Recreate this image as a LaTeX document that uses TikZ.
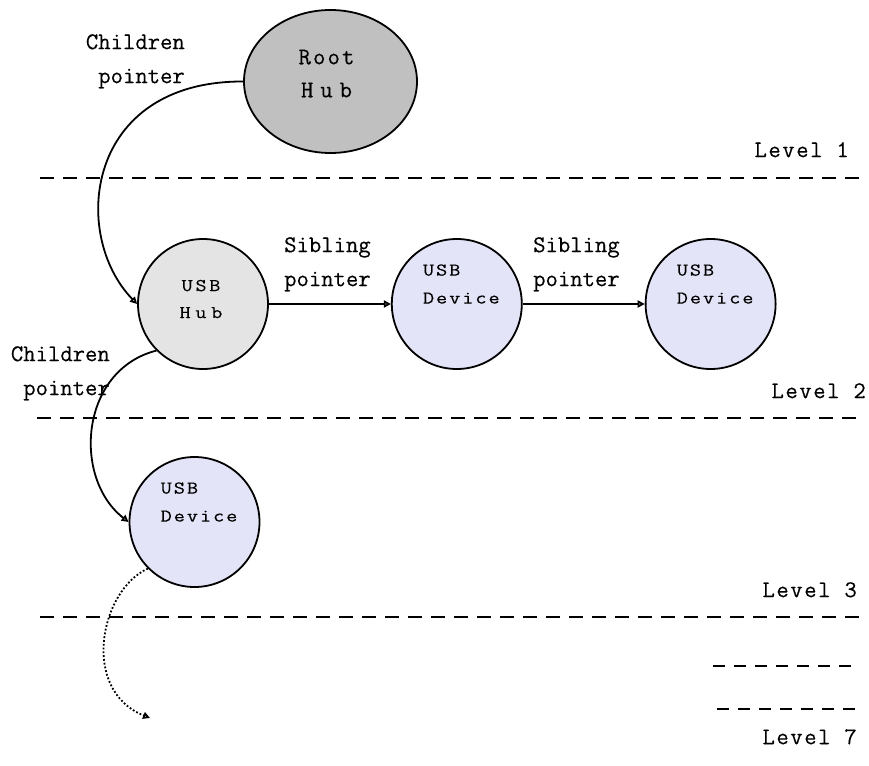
\documentclass[tikz,border=0pt]{standalone}
\usepackage{fontspec}
\setmonofont[FakeBold=0.3]{Latin Modern Mono}
\usetikzlibrary{positioning,shapes.geometric,arrows.meta}
\definecolor{rootgray}{RGB}{192,192,192}
\definecolor{hubgray}{RGB}{228,228,228}
\definecolor{devblue}{RGB}{228,228,248}

\begin{document}
\begin{tikzpicture}[x=1pt,y=-1pt,
item/.style={circle,draw,line width=1.8pt,minimum size=130pt,inner sep=0pt},
dev/.style={item,fill=devblue},
txt/.style={inner sep=0pt,font=\ttfamily\fontsize{24}{34}\selectfont},
lvltxt/.style={txt,anchor=north east,font=\ttfamily\fontsize{24}{34}\selectfont\addfontfeature{LetterSpace=6.5}},
intxt/.style={inner sep=0pt,align=left,font=\ttfamily\fontsize{18}{28}\selectfont\addfontfeature{FakeStretch=1.2,LetterSpace=11}},
ptr/.style={line width=1.8pt,-{Triangle[open,length=7pt,width=7pt]}},
lvl/.style={line width=2.6pt,dash pattern=on 14pt off 9pt}]
\useasboundingbox (0,0) rectangle (869,765);

% nodes
\node[ellipse,draw,line width=1.8pt,fill=rootgray,minimum width=173pt,minimum height=143pt] (root) at (330.5,81.5) {};
\node[inner sep=0pt,align=center,font=\ttfamily\fontsize{24}{33}\selectfont\addfontfeature{LetterSpace=9}] (roott) at ([xshift=-4pt,yshift=8pt]root.center) {Root\\{\addfontfeature{LetterSpace=29}Hub}};
\node[item,fill=hubgray] (hub) at (203,304) {};
\node[dev, right=122pt of hub] (dev1) {};
\node[dev, right=122pt of dev1] (dev2) {};
\node[dev] (dev3) at (194.5,522) {};
\node[intxt,align=center,font=\ttfamily\fontsize{18}{27}\selectfont\addfontfeature{FakeStretch=1.2,LetterSpace=15}] (hubt) at ([xshift=-2pt,yshift=5pt]hub.center) {USB\\{\addfontfeature{LetterSpace=26}Hub}};
\foreach \D in {dev1,dev2,dev3}
{\node[intxt,anchor=west] (\D t) at ([xshift=-34pt,yshift=20pt]\D.center) {USB\\Device};}

% labels
\node[txt,align=right,anchor=north east] (childA) at (185,34) {Children\\pointer};
\node[txt,align=right,anchor=north east] (childB) at (110,346) {Children\\pointer};
\node[txt,align=left,anchor=north west] (sibA) at (284,237) {Sibling\\pointer};
\node[txt,align=left,anchor=north west] (sibB) at (533,237) {Sibling\\pointer};
\node[lvltxt] (lvA) at (849,142) {Level 1};
\node[lvltxt] (lvB) at (866,383) {Level 2};
\node[lvltxt] (lvC) at (857,582) {Level 3};
\node[lvltxt] (lvD) at (857,729) {Level 7};

% level separators
\foreach \a/\b/\y in {40/865/178,37/865/418,40/865/617}
{\draw[lvl] (\a,\y) -- (\b,\y);}
\foreach \a/\b/\y in {713/858/666,717/860/709}
{\draw[lvl,dash pattern=on 12pt off 9pt] (\a,\y) -- (\b,\y);}

% pointers
\coordinate (deeper) at (150,718);
\draw[ptr] (root.west) .. controls (85,81) and (70,235) .. (hub.west);
\draw[ptr] (hub.east) -- (dev1.west);
\draw[ptr] (dev1.east) -- (dev2.west);
\draw[ptr] (hub.225) .. controls (80,370) and (72,478) .. (dev3.west);
\draw[ptr,dotted] (dev3.225) .. controls (100,590) and (80,690) .. (deeper);
\end{tikzpicture}
\end{document}
